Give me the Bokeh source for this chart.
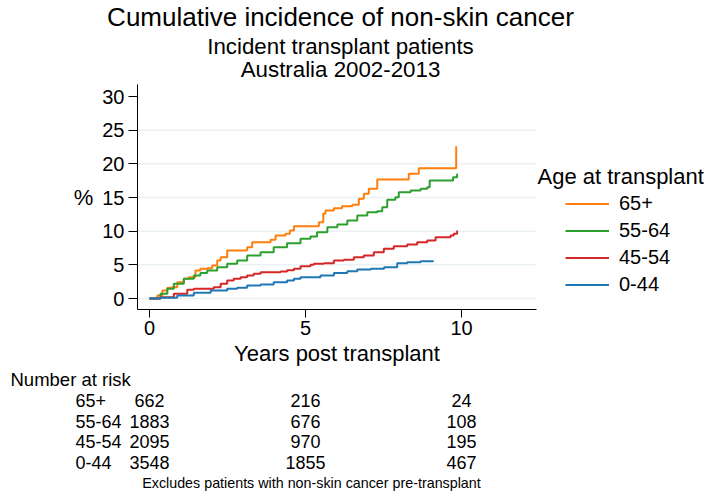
from bokeh.plotting import figure
from bokeh.models import Label, Legend, LegendItem, FixedTicker, Range1d
from bokeh.embed import file_html
from bokeh.resources import INLINE

FONT = "Liberation Sans"

# ---- data ----
groups = ["65+", "55-64", "45-54", "0-44"]
colors = ["#ff7f0e", "#2ca02c", "#d62728", "#1f77b4"]

years_65 = [0, 0.25, 0.41, 0.57, 0.73, 0.89, 1.10, 1.26, 1.47, 1.63, 1.85, 2.01, 2.17, 2.28, 2.49,
            3.13, 3.29, 3.88, 4.04, 4.36, 4.50, 4.63, 5.43, 5.57, 5.64, 5.91, 6.17, 6.50, 6.71,
            6.87, 7.03, 7.30, 8.31, 8.63, 9.83]
pct_65 = [0, 0.45, 1.19, 1.58, 1.68, 2.43, 2.92, 3.17, 4.16, 4.41, 4.51, 4.90, 5.64, 6.14, 7.13,
          7.62, 8.36, 8.71, 9.36, 9.60, 10.1, 10.74, 11.33, 12.57, 13.07, 13.41, 13.71, 13.91, 14.80,
          15.54, 16.29, 17.67, 18.51, 19.35, 22.6]

years_55 = [0, 0.35, 0.57, 0.78, 1.10, 1.42, 1.63, 1.85, 2.17, 2.49, 2.81, 3.13, 3.56, 3.98, 4.41,
            4.84, 5.16, 5.37, 5.70, 6.02, 6.34, 6.66, 6.98, 7.30, 7.46, 7.62, 7.88, 7.99, 8.37,
            8.69, 8.90, 8.98, 9.73, 9.86]
pct_55 = [0, 0.69, 1.44, 2.18, 2.92, 3.42, 3.77, 4.16, 4.65, 5.15, 5.64, 6.39, 6.88, 7.62, 8.20,
          8.86, 9.21, 9.85, 10.59, 10.99, 11.58, 12.33, 12.82, 12.97, 13.56, 14.66, 15.05, 15.79, 16.04,
          16.29, 16.53, 17.53, 18.02, 18.51]

years_45 = [0, 0.35, 0.78, 1.21, 1.42, 2.06, 2.28, 2.49, 2.70, 2.92, 3.13, 3.34, 3.56, 4.20, 4.41,
            4.63, 4.84, 5.16, 5.27, 5.59, 5.91, 6.23, 6.55, 6.87, 7.19, 7.51, 7.83, 8.26, 8.58,
            8.90, 9.17, 9.65, 9.75, 9.86]
pct_45 = [0, 0.20, 0.69, 1.29, 1.44, 1.68, 2.18, 2.67, 2.92, 3.17, 3.42, 3.66, 3.91, 4.01, 4.20,
          4.41, 4.80, 5.00, 5.15, 5.25, 5.64, 5.74, 6.14, 6.39, 6.88, 7.38, 7.77, 8.02, 8.36,
          8.61, 9.10, 9.36, 9.61, 10.1]

years_0 = [0, 0.35, 0.89, 1.42, 1.96, 2.49, 2.81, 3.13, 3.56, 3.98, 4.41, 4.63, 4.84, 5.48, 5.91,
           6.34, 6.66, 7.09, 7.52, 7.94, 8.26, 8.69, 9.09]
pct_0 = [0, 0.10, 0.45, 0.84, 1.19, 1.44, 1.58, 1.93, 2.08, 2.43, 2.67, 2.92, 3.17, 3.42, 3.77,
         4.06, 4.31, 4.41, 4.65, 5.25, 5.40, 5.54, 5.64]

risk_times = [0, 5, 10]
risk_65 = [662, 216, 24]
risk_55 = [1883, 676, 108]
risk_45 = [2095, 970, 195]
risk_0 = [3548, 1855, 467]

x_ticks = [0, 5, 10]
y_ticks = [0, 5, 10, 15, 20, 25, 30]
grid_ticks = [0, 5, 10, 15, 20, 25]

series = [(years_65, pct_65), (years_55, pct_55), (years_45, pct_45), (years_0, pct_0)]
risk_rows = [risk_65, risk_55, risk_45, risk_0]

# ---- layout constants (pixels / data extents of the plot region) ----
W, H = 704, 494
PX_PER_X = 31.2      # pixels per year
PX_PER_Y = 6.733     # pixels per percent
X0_PX, Y0_PY = 149, 298          # pixel position of (0, 0)
XMIN, XMAX = -0.385, 12.40       # plot region in data units
YMIN, YMAX = -1.63, 31.78

p = figure(width=W, height=H, output_backend="svg", toolbar_location=None,
           x_range=Range1d(-X0_PX / PX_PER_X, (W - X0_PX) / PX_PER_X),
           y_range=Range1d((Y0_PY - H) / PX_PER_Y, Y0_PY / PX_PER_Y),
           min_border_left=0, min_border_right=0, min_border_top=0, min_border_bottom=0)
p.outline_line_color = None
p.background_fill_color = "white"
p.border_fill_color = "white"
p.xgrid.visible = False
p.ygrid.visible = False

# horizontal grid lines inside the plot region
p.segment(x0=[XMIN] * len(grid_ticks), x1=[XMAX] * len(grid_ticks), y0=grid_ticks, y1=grid_ticks,
          line_color="#eaf2f3", line_width=1.5, level="underlay")

for ax, ticks in ((p.xaxis[0], x_ticks), (p.yaxis[0], y_ticks)):
    ax.ticker = FixedTicker(ticks=ticks)
    ax.minor_tick_line_color = None
    ax.major_tick_in = 0
    ax.axis_line_color = "black"
    ax.major_tick_line_color = "black"
    ax.major_label_text_font = FONT
    ax.major_label_text_font_size = "20px"
    ax.major_label_text_color = "black"
    ax.axis_label_text_font = FONT
    ax.axis_label_text_font_style = "normal"
    ax.axis_label_text_color = "black"
    ax.axis_label_text_font_size = "22px"
    ax.major_label_standoff = 4

p.xaxis.fixed_location = YMIN
p.xaxis.bounds = (XMIN, XMAX)
p.yaxis.fixed_location = XMIN
p.yaxis.bounds = (YMIN, YMAX)
p.xaxis.major_tick_out = 8
p.yaxis.major_tick_out = 9
p.xaxis.axis_label = "Years post transplant"
p.xaxis.axis_label_standoff = 2
p.yaxis.axis_label = "%"
p.yaxis.axis_label_orientation = "horizontal"
p.yaxis.axis_label_standoff = 6

renderers = []
for (xs, ys), c in zip(series, colors):
    r = p.step(xs, ys, mode="after", line_color=c, line_width=2)
    renderers.append(r)

legend = Legend(items=[LegendItem(label=g, renderers=[r]) for g, r in zip(groups, renderers)],
                location=(565, H - 297.5), padding=0, margin=0, spacing=0,
                border_line_color=None, background_fill_alpha=0,
                glyph_width=44, glyph_height=27, label_height=27, label_standoff=10,
                label_text_font=FONT, label_text_font_size="20px", label_text_color="black")
p.add_layout(legend)


def lab(text, x, y_page, size, align="left", x_units="screen"):
    p.add_layout(Label(x=x, y=H - y_page, x_units=x_units, y_units="screen", text=text,
                       text_font=FONT, text_font_size=size, text_color="black",
                       text_align=align, text_baseline="middle"))


# titles (vertical centres in page pixels)
lab("Cumulative incidence of non-skin cancer", 340, 16.5, "26px", "center")
lab("Incident transplant patients", 340, 46.3, "22.3px", "center")
lab("Australia 2002-2013", 340, 68.7, "22.3px", "center")
# legend title
lab("Age at transplant", 537, 175.5, "22px")
# risk table
lab("Number at risk", 10, 378.5, "18.5px")
row_mid = [400, 420.7, 441.3, 461.7]
for g, row, yy in zip(groups, risk_rows, row_mid):
    lab(g, 75, yy, "18px")
    for t, n in zip(risk_times, row):
        lab(str(n), t, yy, "18px", "center", x_units="data")
lab("Excludes patients with non-skin cancer pre-transplant", 141.7, 482, "14.3px")

open("out.html", "w").write(file_html(p, INLINE))
